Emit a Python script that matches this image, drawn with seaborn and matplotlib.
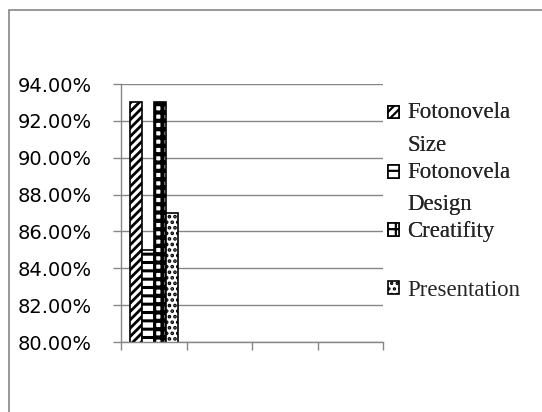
import numpy as np
import pandas as pd
import seaborn as sns
import matplotlib.pyplot as plt
import matplotlib.patches as mpatches
from matplotlib import ticker
from matplotlib.legend_handler import HandlerPatch

# Chart data
categories = ["1", "2", "3", "4"]
series = ["Fotonovela\nSize", "Fotonovela\nDesign", "Creatifity", "Presentation"]
values = [0.93, 0.85, 0.93, 0.87]

# bar patterns (style only)
hatches = ["////", "--", "++", "..."]
hatch_lw = [2.0, 2.2, 3.0, 1.8]

GRID = "#868686"

df = pd.DataFrame({"category": ["1"] * len(series), "series": series, "value": values})

sns.set_style("white")
plt.rcParams["hatch.color"] = "black"
plt.rcParams["hatch.linewidth"] = 1.6


def style_patch(p, i):
    p.set_hatch(hatches[i])
    if hasattr(p, "set_hatch_linewidth"):
        p.set_hatch_linewidth(hatch_lw[i])


fig = plt.figure(figsize=(5.42, 4.12), dpi=100)
ax = fig.add_axes([121 / 542, 70 / 412, 262 / 542, 258 / 412])

sns.barplot(
    data=df, x="category", y="value", hue="series", order=categories,
    hue_order=series, palette=["white"] * 4, width=0.73, gap=0,
    edgecolor="black", linewidth=1.2, legend=False, ax=ax,
)
for i, bar in enumerate(ax.patches):
    style_patch(bar, i)

ax.set_ylim(0.80, 0.94)
ax.set_yticks(np.arange(0.80, 0.9401, 0.02))
ax.yaxis.set_major_formatter(ticker.PercentFormatter(1.0, decimals=2))
ax.set_xlim(-0.5, len(categories) - 0.5)
ax.set_xticks(np.arange(-0.5, len(categories), 1.0))
ax.set_xticklabels([])
ax.set_xlabel("")
ax.set_ylabel("")
ax.yaxis.grid(True, color=GRID, linewidth=1)
ax.set_axisbelow(True)
for side in ["top", "right"]:
    ax.spines[side].set_visible(False)
for side in ["left", "bottom"]:
    ax.spines[side].set_color(GRID)
    ax.spines[side].set_linewidth(1)
ax.tick_params(axis="y", left=True, length=6, color=GRID, width=1, pad=15,
               labelsize=14, labelcolor="black")
ax.tick_params(axis="x", bottom=True, length=6, color=GRID, width=1)
for lab in ax.get_yticklabels():
    lab.set_fontfamily("DejaVu Sans")

# legend: handle sits next to the first line of two-line labels
LEG_SIZE = 16.5
LINE_PX = 33


def first_line_patch(legend, orig_handle, xdescent, ydescent, width, height, fontsize):
    shift = 0
    label = orig_handle.get_label()
    if "\n" in label:
        shift = LINE_PX / 2 * 72 / 100
    return mpatches.Rectangle((-xdescent, -ydescent + shift), width, height)


def make_handles(idx):
    out = []
    for i in idx:
        p = mpatches.Patch(facecolor="white", edgecolor="black", linewidth=1.2,
                           label=series[i])
        style_patch(p, i)
        out.append(p)
    return out


leg_kw = dict(loc="upper left", frameon=False,
              prop={"family": "Liberation Serif", "size": LEG_SIZE},
              handlelength=0.48, handleheight=0.48, handletextpad=0.35,
              borderpad=0, borderaxespad=0,
              handler_map={mpatches.Patch: HandlerPatch(patch_func=first_line_patch)})

leg1 = fig.legend(handles=make_handles([0, 1, 2]), labels=series[:3],
                  bbox_to_anchor=(388 / 542, 1 - 102 / 412), labelspacing=0.27,
                  **leg_kw)
for t in leg1.get_texts():
    t.set_linespacing(1.72)
leg2 = fig.legend(handles=make_handles([3]), labels=series[3:],
                  bbox_to_anchor=(388 / 542, 1 - 280 / 412), **leg_kw)
fig.add_artist(leg1)

# chart area border
fig.add_artist(mpatches.Rectangle((9 / 542, -0.1), 1.2, 1 - 10 / 412 + 0.1,
                                  transform=fig.transFigure, fill=False,
                                  edgecolor=GRID, linewidth=1.2))

fig.savefig("out.png", dpi=100)
